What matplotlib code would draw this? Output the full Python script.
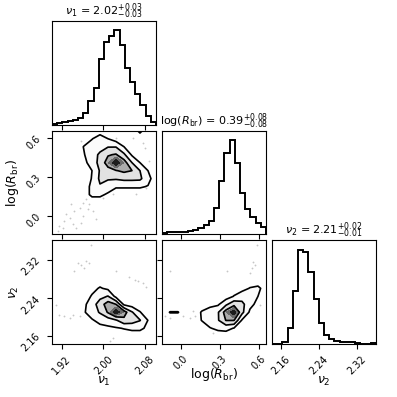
# Corner plot: nu_1, log(R_br), nu_2

import numpy as np
import matplotlib
matplotlib.use("Agg")
from matplotlib import pyplot as plt

# axis ranges and ticks
nu1_range = (1.901, 2.101)
logr_range = (-0.146, 0.654)
nu2_range = (2.142, 2.360)
nu1_ticks = [1.92, 2.00, 2.08]
logr_ticks = [0.0, 0.3, 0.6]
nu2_ticks = [2.16, 2.24, 2.32]
nu1_ticklabels = ['1.92', '2.00', '2.08']
logr_ticklabels = ['0.0', '0.3', '0.6']
nu2_ticklabels = ['2.16', '2.24', '2.32']

labels = [r'$\nu_1$', r'$\log(R_{\rm br})$', r'$\nu_2$']
titles = [r'$\nu_1$ = $2.02^{+0.03}_{-0.03}$',
          r'$\log(R_{\rm br})$ = $0.39^{+0.08}_{-0.08}$',
          r'$\nu_2$ = $2.21^{+0.02}_{-0.01}$']

# 1D marginal histograms (20 bins over the axis range)
nu1_counts = [2, 5, 8, 11, 13, 20, 36, 70, 110, 196, 248, 266, 281, 238, 170, 126, 92, 60, 26, 8]
logr_counts = [4, 6, 7, 7, 8, 9, 12, 18, 28, 40, 80, 160, 246, 283, 216, 123, 75, 53, 35, 21]
nu2_counts = [2, 2, 8, 50, 160, 283, 278, 216, 135, 63, 28, 16, 10, 8, 7, 8, 5, 2, 2, 3]

# 2D density level grids (14x14 nodes, first row = top of panel)
dens_nu1_logr = [
    [0, 0, 0, 0, 0, 0, 0, 0, 0, 0, 0, 0.7, 0, 0],
    [0, 0, 0, 0, 0, 0.45, 1, 0.5, 0, 0, 0, 0, 0, 0],
    [0, 0, 0, 0, 0.55, 1, 1.1, 1.45, 1.45, 0.5, 0, 0, 0, 0],
    [0, 0, 0, 0, 0.45, 1, 1.7, 2.4, 2.6, 1.7, 0.35, 0, 0, 0],
    [0, 0, 0, 0, 0.2, 1, 1.8, 3, 4, 3, 1.5, 0.5, 0, 0],
    [0, 0, 0, 0, 0, 0.5, 1.6, 2.1, 2.45, 2.7, 2.5, 1.5, 0.5, 0],
    [0, 0, 0, 0, 0, 0.55, 1.7, 1.6, 1.6, 1.75, 1.75, 1.7, 0.8, 0],
    [0, 0, 0, 0, 0.2, 0.65, 1.4, 1.0, 0.6, 0.6, 0.6, 0.6, 0.45, 0],
    [0, 0, 0, 0, 0.1, 0.7, 0.7, 0.35, 0, 0, 0, 0, 0, 0],
    [0, 0, 0, 0, 0, 0, 0, 0, 0, 0, 0, 0, 0, 0],
    [0, 0, 0, 0, 0, 0, 0, 0, 0, 0, 0, 0, 0, 0],
    [0, 0, 0, 0, 0, 0, 0, 0, 0, 0, 0, 0, 0, 0],
    [0, 0, 0, 0, 0, 0, 0, 0, 0, 0, 0, 0, 0, 0],
    [0, 0, 0, 0, 0, 0, 0, 0, 0, 0, 0, 0, 0, 0],
]
dens_nu1_nu2 = [
    [0, 0, 0, 0, 0, 0, 0, 0, 0, 0, 0, 0, 0, 0],
    [0, 0, 0, 0, 0, 0, 0, 0, 0, 0, 0, 0, 0, 0],
    [0, 0, 0, 0, 0, 0, 0, 0, 0, 0, 0, 0, 0, 0],
    [0, 0, 0, 0, 0, 0, 0, 0, 0, 0, 0, 0, 0, 0],
    [0, 0, 0, 0, 0, 0, 0, 0, 0, 0, 0, 0, 0, 0],
    [0, 0, 0, 0, 0, 0, 0, 0, 0, 0, 0, 0, 0, 0],
    [0, 0, 0, 0, 0, 0.2, 0.6, 0.3, 0, 0, 0, 0, 0, 0],
    [0, 0, 0, 0, 0, 0.6, 1.2, 1.55, 0.2, 0, 0, 0, 0, 0],
    [0, 0, 0, 0, 0.3, 1, 2, 3, 2.5, 0.3, 0, 0, 0, 0],
    [0, 0, 0, 0, 0.4, 1, 1.6, 2.6, 4, 3, 1.6, 0.55, 0, 0],
    [0, 0, 0, 0, 0, 0.4, 0.8, 1, 1.4, 2.2, 2, 1.55, 0.48, 0],
    [0, 0, 0, 0, 0, 0, 0.2, 0.3, 0.4, 0.55, 0.7, 0.7, 0.3, 0],
    [0, 0, 0, 0, 0, 0, 0, 0, 0, 0, 0, 0, 0, 0],
    [0, 0, 0, 0, 0, 0, 0, 0, 0, 0, 0, 0, 0, 0],
]
dens_logr_nu2 = [
    [0, 0, 0, 0, 0, 0, 0, 0, 0, 0, 0, 0, 0, 0],
    [0, 0, 0, 0, 0, 0, 0, 0, 0, 0, 0, 0, 0, 0],
    [0, 0, 0, 0, 0, 0, 0, 0, 0, 0, 0, 0, 0, 0],
    [0, 0, 0, 0, 0, 0, 0, 0, 0, 0, 0, 0, 0, 0],
    [0, 0, 0, 0, 0, 0, 0, 0, 0, 0, 0, 0, 0, 0],
    [0, 0, 0, 0, 0, 0, 0, 0, 0, 0, 0, 0, 0, 0],
    [0, 0, 0, 0, 0, 0, 0, 0, 0, 0, 0.2, 0.55, 0.7, 0.1],
    [0, 0, 0, 0, 0, 0, 0, 0, 0, 0.55, 1, 1, 0.5, 0],
    [0, 0, 0, 0, 0, 0, 0.2, 0.35, 1.3, 2.2, 1.8, 0.8, 0.2, 0],
    [0, 0.54, 0.54, 0, 0, 0.6, 1, 1.4, 3, 4, 1.8, 0.3, 0, 0],
    [0, 0, 0, 0, 0, 0.55, 1, 1.4, 2.55, 2.55, 0.4, 0, 0, 0],
    [0, 0, 0, 0, 0, 0, 0.45, 0.7, 0.8, 0.45, 0, 0, 0, 0],
    [0, 0, 0, 0, 0, 0, 0, 0, 0, 0, 0, 0, 0, 0],
    [0, 0, 0, 0, 0, 0, 0, 0, 0, 0, 0, 0, 0, 0],
]

# stray samples outside the contours
pts_a_nu1 = [1.915, 1.925, 1.935, 1.944, 1.954, 1.960, 1.967, 1.938, 1.922, 1.912, 1.947, 1.973,
             1.979, 1.986, 1.957, 1.941, 1.928, 1.960, 1.970, 1.999, 2.018, 2.076, 2.056, 2.024,
             1.957, 2.063, 2.082, 2.088, 2.079]
pts_a_logr = [-0.081, -0.043, -0.017, 0.034, 0.060, 0.098, 0.124, 0.086, -0.094, -0.119, -0.094, 0.086,
              0.034, -0.030, -0.055, -0.068, 0.009, -0.004, 0.047, 0.137, 0.163, 0.560, 0.598, 0.598,
              0.573, 0.163, 0.214, 0.419, 0.521]
pts_b_nu1 = [1.976, 1.951, 1.957, 1.963, 1.967, 1.944, 1.973, 2.024, 2.050, 2.066, 2.076, 2.082,
             2.060, 1.915, 1.925, 1.935, 1.941, 1.909, 1.954, 2.012, 2.018]
pts_b_nu2 = [2.350, 2.312, 2.309, 2.302, 2.316, 2.295, 2.312, 2.295, 2.284, 2.274, 2.270, 2.263,
             2.277, 2.204, 2.201, 2.197, 2.203, 2.225, 2.201, 2.149, 2.156]
pts_c_logr = [0.558, 0.570, 0.545, 0.583, 0.532, -0.083, 0.019, 0.070, 0.096, 0.109, -0.083, 0.352,
              0.609, 0.250, -0.122]
pts_c_nu2 = [2.315, 2.309, 2.302, 2.350, 2.291, 2.197, 2.201, 2.197, 2.211, 2.201, 2.295, 2.295,
             2.225, 2.166, 2.201]

fill_levels = [0.5, 1.5, 2.5, 3.0, 3.5, 4.5]
fill_colors = ['#fbfbfb', '#e2e2e2', '#ababab', '#6a6a6a', '#1c1c1c']
line_levels = [0.5, 1.5, 2.5]


def draw_hist(ax, counts, rng):
    edges = np.linspace(rng[0], rng[1], len(counts) + 1)
    ax.stairs(counts, edges, color='k', lw=1.4)
    ax.set_xlim(rng)
    ax.set_ylim(0, 1.1 * max(counts))
    ax.set_yticks([])


def draw_density(ax, grid, xr, yr, px, py):
    z = np.flipud(np.array(grid, dtype=float))   # rows were written top first
    gx = np.linspace(xr[0], xr[1], z.shape[1])
    gy = np.linspace(yr[0], yr[1], z.shape[0])
    ax.plot(px, py, 'o', ms=1.3, color='0.72', alpha=0.8, mec='none', zorder=1)
    ax.contourf(gx, gy, z, levels=fill_levels, colors=fill_colors, zorder=2)
    ax.contour(gx, gy, z, levels=line_levels, colors='k', linewidths=1.2, zorder=3)
    ax.set_xlim(xr)
    ax.set_ylim(yr)


fig, axes = plt.subplots(3, 3, figsize=(3.97, 3.97), dpi=100)
plt.subplots_adjust(left=0.131, right=0.947, bottom=0.133, top=0.947, wspace=0.058, hspace=0.058)

ticks = [nu1_ticks, logr_ticks, nu2_ticks]
ticklabels = [nu1_ticklabels, logr_ticklabels, nu2_ticklabels]
xlabel_y = [-0.30, -0.21, -0.30]

draw_hist(axes[0, 0], nu1_counts, nu1_range)
draw_hist(axes[1, 1], logr_counts, logr_range)
draw_hist(axes[2, 2], nu2_counts, nu2_range)
draw_density(axes[1, 0], dens_nu1_logr, nu1_range, logr_range, pts_a_nu1, pts_a_logr)
draw_density(axes[2, 0], dens_nu1_nu2, nu1_range, nu2_range, pts_b_nu1, pts_b_nu2)
draw_density(axes[2, 1], dens_logr_nu2, logr_range, nu2_range, pts_c_logr, pts_c_nu2)

for i in range(3):
    for j in range(3):
        ax = axes[i, j]
        if j > i:
            ax.set_frame_on(False)
            ax.set_xticks([])
            ax.set_yticks([])
            continue
        ax.set_xticks(ticks[j])
        if i == 2:
            ax.set_xticklabels(ticklabels[j], rotation=45, fontsize=7)
            ax.set_xlabel(labels[j], fontsize=9)
            ax.xaxis.set_label_coords(0.5, xlabel_y[j])
        else:
            ax.set_xticklabels([])
        if j < i:
            ax.set_yticks(ticks[i])
            if j == 0:
                ax.set_yticklabels(ticklabels[i], rotation=45, fontsize=7)
                ax.set_ylabel(labels[i], fontsize=9)
                ax.yaxis.set_label_coords(-0.3, 0.5)
            else:
                ax.set_yticklabels([])
        if i == j:
            ax.set_title(titles[i], fontsize=8, pad=2)

plt.savefig('out.png', dpi=100)
